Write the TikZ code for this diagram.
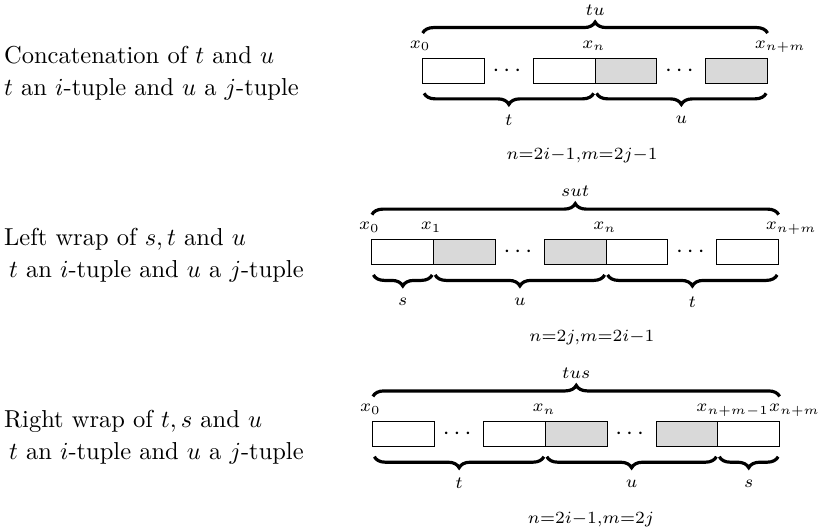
\documentclass[tikz,border=0pt]{standalone}
\usepackage{amsmath,amssymb,mathtools}
\usepackage{xcolor}
\usepackage{tikz}
\usetikzlibrary{positioning,decorations.pathreplacing}

\begin{document}
\begin{tikzpicture}[
  cell/.style={draw, line width=0.4pt, minimum width=25.2pt, minimum height=10.2pt,
               inner sep=0pt, outer sep=0pt},
  shade/.style={cell, fill=gray!30},
  gap/.style={minimum width=20pt, inner sep=0pt, outer sep=0pt},
  brc/.style={decorate, decoration={brace, amplitude=4.5pt}, line width=1.3pt},
  mbrc/.style={decorate, decoration={brace, mirror, amplitude=4.5pt}, line width=1.3pt},
  xl/.style={anchor=base east, inner sep=0pt},
  cond/.style={inner sep=0pt},
  desc/.style={align=left, anchor=west, inner sep=1.5pt}
]
\useasboundingbox (0,0) rectangle (335.5pt,-217.1pt);

% concatenation
\node[desc] (catd) at (0,-30pt)
     {Concatenation of $t$ and $u$\\[1pt] $t$ an $i$-tuple and $u$ a $j$-tuple};
\node[cell, anchor=west] (cat1) at (172.5pt,-28.8pt) {};
\node[gap, right=0pt of cat1] (catg1) {$\cdots$};
\node[cell, right=0pt of catg1] (cat2) {};
\node[shade, right=0pt of cat2] (cat3) {};
\node[gap, right=0pt of cat3] (catg2) {$\cdots$};
\node[shade, right=0pt of catg2] (cat4) {};

\node[xl] (catx0) at ([yshift=4pt]cat1.north west) {$\scriptstyle x_{\mathrlap{0}}$};
\node[xl] (catxn) at ([yshift=4pt]cat3.north west) {$\scriptstyle x_{\mathrlap{n}}$};
\node[xl] (catxm) at ([yshift=4pt]cat4.north east) {$\scriptstyle x_{\mathrlap{n+m}}$};

\draw[brc] ([yshift=10.2pt]cat1.north west) -- node[midway, yshift=9.5pt] (cattu) {$\scriptstyle tu$}
      ([yshift=10.2pt]cat4.north east);
\draw[mbrc] ([xshift=0.6pt, yshift=-4.2pt]cat1.south west) -- node[midway, yshift=-11pt] (catt) {$\scriptstyle t$}
      ([xshift=-0.6pt, yshift=-4.2pt]cat2.south east);
\draw[mbrc] ([xshift=0.6pt, yshift=-4.2pt]cat3.south west) -- node[midway, yshift=-11pt] (catu) {$\scriptstyle u$}
      ([xshift=-0.6pt, yshift=-4.2pt]cat4.south east);
\node[cond] (catc) at (237.6pt,-63.3pt) {$\scriptstyle n=2i-1,m=2j-1$};

% left wrap
\node[desc] (lwd) at (0,-104.1pt)
     {Left wrap of $s,t$ and $u$\\[1pt] \hspace*{2pt}$t$ an $i$-tuple and $u$ a $j$-tuple};
\node[cell, anchor=west] (lw1) at (151.8pt,-102.9pt) {};
\node[shade, right=0pt of lw1] (lw2) {};
\node[gap, right=0pt of lw2] (lwg1) {$\cdots$};
\node[shade, right=0pt of lwg1] (lw3) {};
\node[cell, right=0pt of lw3] (lw4) {};
\node[gap, right=0pt of lw4] (lwg2) {$\cdots$};
\node[cell, right=0pt of lwg2] (lw5) {};

\node[xl] (lwx0) at ([yshift=4pt]lw1.north west) {$\scriptstyle x_{\mathrlap{0}}$};
\node[xl] (lwx1) at ([yshift=4pt]lw2.north west) {$\scriptstyle x_{\mathrlap{1}}$};
\node[xl] (lwxn) at ([yshift=4pt]lw4.north west) {$\scriptstyle x_{\mathrlap{n}}$};
\node[xl] (lwxm) at ([yshift=4pt]lw5.north east) {$\scriptstyle x_{\mathrlap{n+m}}$};

\draw[brc] ([yshift=10.2pt]lw1.north west) -- node[midway, yshift=9.5pt] (lwsut) {$\scriptstyle sut$}
      ([yshift=10.2pt]lw5.north east);
\draw[mbrc] ([xshift=0.6pt, yshift=-4.2pt]lw1.south west) -- node[midway, yshift=-11pt] (lws) {$\scriptstyle s$}
      ([xshift=-0.6pt, yshift=-4.2pt]lw1.south east);
\draw[mbrc] ([xshift=0.6pt, yshift=-4.2pt]lw2.south west) -- node[midway, yshift=-11pt] (lwu) {$\scriptstyle u$}
      ([xshift=-0.6pt, yshift=-4.2pt]lw3.south east);
\draw[mbrc] ([xshift=0.6pt, yshift=-4.2pt]lw4.south west) -- node[midway, yshift=-11pt] (lwt) {$\scriptstyle t$}
      ([xshift=-0.6pt, yshift=-4.2pt]lw5.south east);
\node[cond] (lwc) at (241.6pt,-137.6pt) {$\scriptstyle n=2j,m=2i-1$};

% right wrap
\node[desc] (rwd) at (0,-178.3pt)
     {Right wrap of $t,s$ and $u$\\[1pt] \hspace*{2pt}$t$ an $i$-tuple and $u$ a $j$-tuple};
\node[cell, anchor=west] (rw1) at (152.2pt,-177.1pt) {};
\node[gap, right=0pt of rw1] (rwg1) {$\cdots$};
\node[cell, right=0pt of rwg1] (rw2) {};
\node[shade, right=0pt of rw2] (rw3) {};
\node[gap, right=0pt of rw3] (rwg2) {$\cdots$};
\node[shade, right=0pt of rwg2] (rw4) {};
\node[cell, right=0pt of rw4] (rw5) {};

\node[xl] (rwx0) at ([yshift=4pt]rw1.north west) {$\scriptstyle x_{\mathrlap{0}}$};
\node[xl] (rwxn) at ([yshift=4pt]rw3.north west) {$\scriptstyle x_{\mathrlap{n}}$};
\node[xl] (rwxk) at ([xshift=-3.5pt, yshift=4pt]rw5.north west) {$\scriptstyle x_{\mathrlap{n+m-1}}$};
\node[xl] (rwxm) at ([xshift=1pt, yshift=4pt]rw5.north east) {$\scriptstyle x_{\mathrlap{n+m}}$};

\draw[brc] ([yshift=10.2pt]rw1.north west) -- node[midway, yshift=9.5pt] (rwtus) {$\scriptstyle tus$}
      ([yshift=10.2pt]rw5.north east);
\draw[mbrc] ([xshift=0.6pt, yshift=-4.2pt]rw1.south west) -- node[midway, yshift=-11pt] (rwt) {$\scriptstyle t$}
      ([xshift=-0.6pt, yshift=-4.2pt]rw2.south east);
\draw[mbrc] ([xshift=0.6pt, yshift=-4.2pt]rw3.south west) -- node[midway, yshift=-11pt] (rwu) {$\scriptstyle u$}
      ([xshift=-0.6pt, yshift=-4.2pt]rw4.south east);
\draw[mbrc] ([xshift=0.6pt, yshift=-4.2pt]rw5.south west) -- node[midway, yshift=-11pt] (rws) {$\scriptstyle s$}
      ([xshift=-0.6pt, yshift=-4.2pt]rw5.south east);
\node[cond] (rwc) at (241.2pt,-212.2pt) {$\scriptstyle n=2i-1,m=2j$};
\end{tikzpicture}
\end{document}
